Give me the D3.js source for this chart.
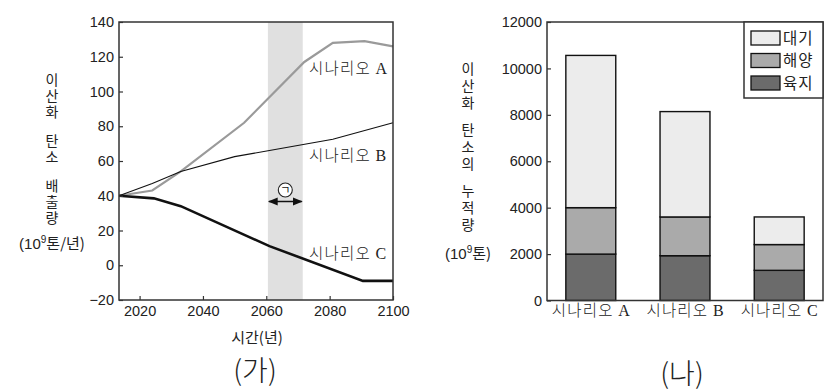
<!DOCTYPE html>
<html><head><meta charset="utf-8">
<script src="https://cdn.jsdelivr.net/npm/d3@7"></script>
<style>
html,body{margin:0;padding:0;background:#fff;}
svg{display:block;}
.kr{font-family:"Noto Sans CJK KR","Noto Sans",sans-serif;}
.num{font-family:"Liberation Sans",Arial,sans-serif;}
</style></head>
<body>
<svg id="c" width="837" height="392"></svg>
<script>
// ---- data (가) ----
const years = [2013.5, 2100];
const yTicksA = [-20, 0, 20, 40, 60, 80, 100, 120, 140];
const xTicksA = [2020, 2040, 2060, 2080, 2100];
const scenA = [[2013.5,40],[2024,43],[2033,54],[2053,82],[2072,117],[2081,128],[2091,129],[2100,126]];
const scenB = [[2013.5,40],[2024,47],[2033,54],[2050,62.5],[2061,66],[2081,72.5],[2100,82]];
const scenC = [[2013.5,40],[2024.5,38.5],[2033,34],[2061,11],[2090.5,-9],[2100,-9]];
const band = [2060.5, 2071.5];
// ---- data (나) ----
const scenarios = ["시나리오 A", "시나리오 B", "시나리오 C"];
const land = [2000, 1930, 1300];
const ocean = [2000, 1670, 1110];
const atmos = [6560, 4540, 1190];
const yTicksB = [0, 2000, 4000, 6000, 8000, 10000, 12000];
const legendLabels = ["대기", "해양", "육지"];
const colors = {atmos:"#ececec", ocean:"#aaaaaa", land:"#6b6b6b"};

const svg = d3.select("#c");
const axisColor = "#333";

// ===== (가) =====
const L = {l:119, r:393, t:22, b:300};
const x1 = d3.scaleLinear().domain(years).range([L.l, L.r]);
const y1 = d3.scaleLinear().domain([-20,140]).range([L.b, L.t]);

svg.append("rect").attr("x", x1(band[0])).attr("y", L.t)
  .attr("width", x1(band[1]) - x1(band[0])).attr("height", L.b - L.t).attr("fill", "#e0e0e0");

const line = d3.line().x(d=>x1(d[0])).y(d=>y1(d[1]));
svg.append("path").datum(scenA).attr("d", line).attr("fill","none").attr("stroke","#9a9a9a").attr("stroke-width",2.2);
svg.append("path").datum(scenB).attr("d", line).attr("fill","none").attr("stroke","#111").attr("stroke-width",1.1);
svg.append("path").datum(scenC).attr("d", line).attr("fill","none").attr("stroke","#111").attr("stroke-width",2.6);

// frame
svg.append("rect").attr("x",L.l).attr("y",L.t).attr("width",L.r-L.l).attr("height",L.b-L.t)
  .attr("fill","none").attr("stroke",axisColor).attr("stroke-width",1.5);

const axL = svg.append("g").attr("transform",`translate(${L.l},0)`)
  .call(d3.axisLeft(y1).tickValues(yTicksA).tickSize(-4).tickPadding(5).tickFormat(d=> d<0 ? "\u2212"+Math.abs(d) : d));
axL.select(".domain").remove();
axL.selectAll("line").attr("stroke",axisColor).attr("stroke-width",1.2);
axL.selectAll("text").attr("class","num").style("font-size","14.5px").attr("fill","#222");

const axB = svg.append("g").attr("transform",`translate(0,${L.b})`)
  .call(d3.axisBottom(x1).tickValues(xTicksA).tickSize(-4).tickPadding(6).tickFormat(d3.format("d")));
axB.select(".domain").remove();
axB.selectAll("line").attr("stroke",axisColor).attr("stroke-width",1.2);
axB.selectAll("text").attr("class","num").style("font-size","14.5px").attr("fill","#222");

// scenario labels
function scenLabel(x, y, kr, letter){
  const t = svg.append("text").attr("x",x).attr("y",y).attr("fill","#222");
  t.append("tspan").attr("class","kr").style("font-size","15.5px").style("letter-spacing","1.2px").style("font-weight","300").text(kr+" ");
  t.append("tspan").style("font-family","Liberation Serif, serif").style("font-size","16px").text(letter);
}
scenLabel(309, 74, "시나리오", "A");
scenLabel(309, 161, "시나리오", "B");
scenLabel(309, 259, "시나리오", "C");

// arrow with circled ㄱ
const ay = 201.5;
const defs = svg.append("defs");
defs.append("marker").attr("id","ah").attr("viewBox","0 0 10 10").attr("refX",9).attr("refY",5)
  .attr("markerWidth",7).attr("markerHeight",7).attr("orient","auto-start-reverse")
  .append("path").attr("d","M0,1 L10,5 L0,9 Z").attr("fill","#111");
svg.append("line").attr("x1",x1(band[0])+1).attr("x2",x1(band[1])-1).attr("y1",ay).attr("y2",ay)
  .attr("stroke","#111").attr("stroke-width",1.4)
  .attr("marker-start","url(#ah)").attr("marker-end","url(#ah)");
const cx = (x1(band[0])+x1(band[1]))/2;
svg.append("circle").attr("cx",cx).attr("cy",190).attr("r",7).attr("fill","#fff").attr("stroke","#222").attr("stroke-width",1.1);
svg.append("text").attr("class","kr").attr("x",cx).attr("y",190).attr("dy","0.36em")
  .attr("text-anchor","middle").style("font-size","11px").attr("fill","#111").text("ㄱ");

// vertical titles: single text element in vertical writing mode, narrow word gaps
function verticalTitle(words, x, yTop, spacing, gapSize){
  const t = svg.append("text").attr("class","kr").attr("x",x).attr("y",yTop)
    .attr("writing-mode","vertical-rl").style("text-orientation","upright")
    .style("letter-spacing", spacing+"px")
    .style("font-size","14px").attr("fill","#222");
  words.forEach((w,i)=>{
    if(i>0) t.append("tspan").style("font-size", gapSize+"px").text("\u00a0");
    t.append("tspan").text(w);
  });
}
verticalTitle(["이산화","탄소","배출량"], 52, 73, 2, 11);

const ua = svg.append("text").attr("x",52).attr("y",249).attr("text-anchor","middle").attr("fill","#222").style("font-size","15px");
ua.append("tspan").attr("class","num").text("(10");
ua.append("tspan").attr("class","num").attr("dy",-6).style("font-size","10px").text("9");
ua.append("tspan").attr("class","kr").attr("dy",6).text("톤/년)");

svg.append("text").attr("class","kr").attr("x",257).attr("y",343).attr("text-anchor","middle")
  .style("font-size","15px").attr("fill","#222").text("시간(년)");
svg.append("text").attr("class","kr").attr("x",255).attr("y",381).attr("text-anchor","middle")
  .style("font-size","28px").style("font-weight","300").attr("fill","#222").text("(가)");

// ===== (나) =====
const R = {l:547, r:823, t:22, b:300.5};
const x2 = d3.scaleBand().domain(scenarios).range([R.l, R.r]).paddingInner(0.47).paddingOuter(0.2);
const y2 = d3.scaleLinear().domain([0,12000]).range([R.b, R.t]);

const rows = scenarios.map((s,i)=>({s, land:land[i], ocean:ocean[i], atmos:atmos[i]}));
const stack = d3.stack().keys(["land","ocean","atmos"])(rows);
stack.forEach(layer=>{
  svg.append("g").selectAll("rect").data(layer).join("rect")
    .attr("x", d=>x2(d.data.s)).attr("width", x2.bandwidth())
    .attr("y", d=>y2(d[1])).attr("height", d=>y2(d[0])-y2(d[1]))
    .attr("fill", colors[layer.key]).attr("stroke","#111").attr("stroke-width",1.4);
});

svg.append("rect").attr("x",R.l).attr("y",R.t).attr("width",R.r-R.l).attr("height",R.b-R.t)
  .attr("fill","none").attr("stroke",axisColor).attr("stroke-width",1.5);

const axL2 = svg.append("g").attr("transform",`translate(${R.l},0)`)
  .call(d3.axisLeft(y2).tickValues(yTicksB).tickSize(-4).tickPadding(5).tickFormat(d3.format("d")));
axL2.select(".domain").remove();
axL2.selectAll("line").attr("stroke",axisColor).attr("stroke-width",1.2);
axL2.selectAll("text").attr("class","num").style("font-size","14.5px").attr("fill","#222");

const axB2 = svg.append("g").attr("transform",`translate(0,${R.b})`)
  .call(d3.axisBottom(x2).tickSize(0).tickPadding(8));
axB2.select(".domain").remove();
axB2.selectAll("text").each(function(d){
  const t = d3.select(this).text("");
  const parts = d.split(" ");
  t.append("tspan").attr("class","kr").style("font-size","15.5px").style("letter-spacing","1.2px").style("font-weight","300").text(parts[0]+" ");
  t.append("tspan").style("font-family","Liberation Serif, serif").style("font-size","16px").text(parts[1]);
  t.attr("fill","#222");
});

// legend
const lg = {x:744, y:22, w:79, h:76};
svg.append("rect").attr("x",lg.x).attr("y",lg.y).attr("width",lg.w).attr("height",lg.h)
  .attr("fill","#fff").attr("stroke",axisColor).attr("stroke-width",1.5);
const legColors = [colors.atmos, colors.ocean, colors.land];
legendLabels.forEach((lab,i)=>{
  const cy = 38 + i*22.5;
  svg.append("rect").attr("x",751).attr("y",cy-7).attr("width",29).attr("height",14)
    .attr("fill",legColors[i]).attr("stroke","#111").attr("stroke-width",1.3);
  svg.append("text").attr("class","kr").attr("x",783).attr("y",cy).attr("dy","0.36em")
    .style("font-size","15.5px").style("letter-spacing","1px").attr("fill","#222").text(lab);
});

// y title (나)
verticalTitle(["이산화","탄소의","누적량"], 468, 62, 3, 7);

const ub = svg.append("text").attr("x",445).attr("y",259).attr("fill","#222").style("font-size","15px");
ub.append("tspan").attr("class","num").text("(10");
ub.append("tspan").attr("class","num").attr("dy",-6).style("font-size","10px").text("9");
ub.append("tspan").attr("class","kr").attr("dy",6).text("톤)");

svg.append("text").attr("class","kr").attr("x",682).attr("y",384).attr("text-anchor","middle")
  .style("font-size","28px").style("font-weight","300").attr("fill","#222").text("(나)");
</script>
</body></html>
